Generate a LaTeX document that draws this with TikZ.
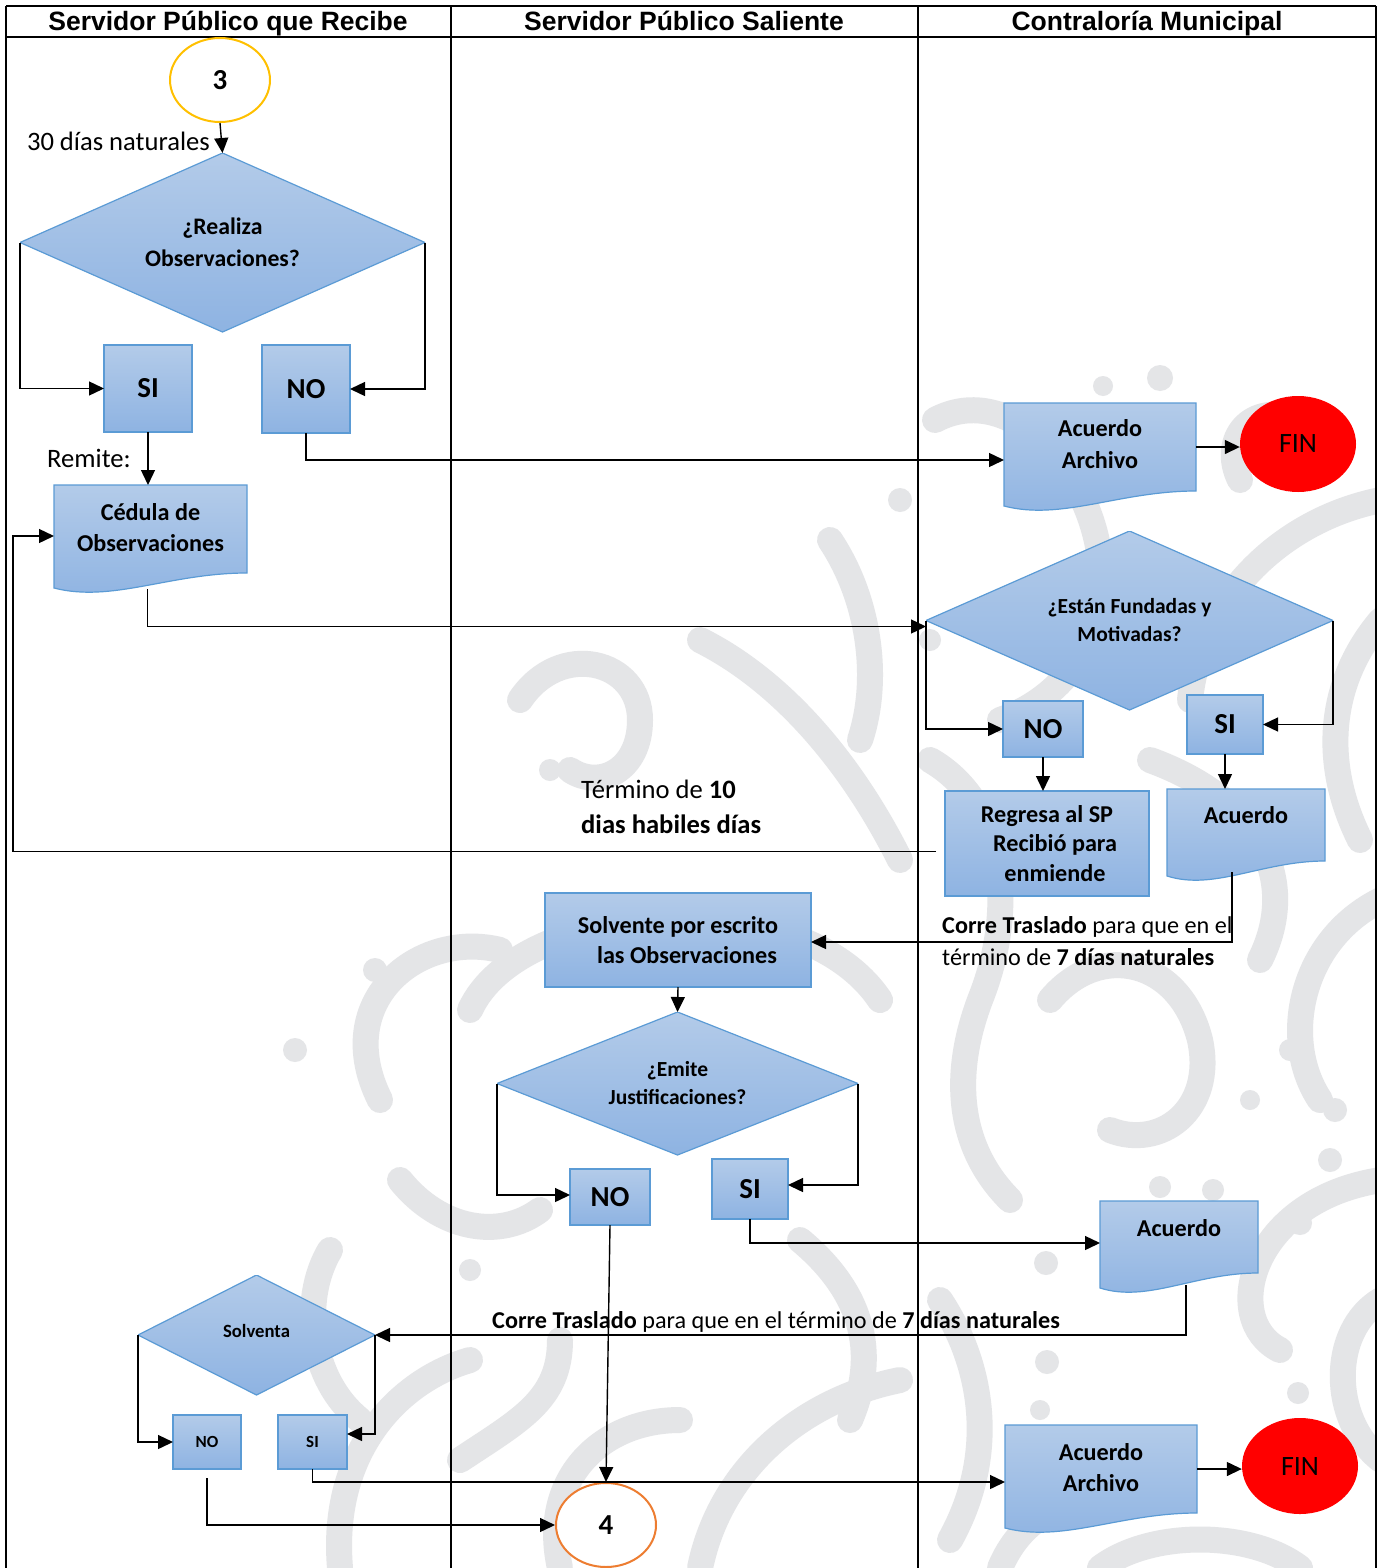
\documentclass[tikz,border=0pt]{standalone}
\usepackage{fontspec}
\setmainfont{Carlito}
\newfontfamily\headfont{Liberation Sans}
\usetikzlibrary{shapes.geometric,arrows.meta,calc}

\definecolor{boxtop}{HTML}{B3CBE9}
\definecolor{boxbot}{HTML}{8EB3E2}
\definecolor{boxline}{HTML}{5B9BD5}
\definecolor{wmgray}{HTML}{E4E5E7}
\definecolor{startgold}{HTML}{FFC000}
\definecolor{endorange}{HTML}{ED7D31}
\definecolor{finred}{HTML}{FF0000}

\newcommand\fs[2]{\fontsize{#1}{#2}\selectfont}
% document symbol: rectangle with a wavy lower edge
\newcommand\docshape[1]{%
  \path[shapefill] (#1.north west) -- (#1.north east) -- (#1.south east)
    .. controls ($(#1.south west)!0.6!(#1.south east)$) and ($(#1.south west)!0.3!(#1.south east)+(0,30)$)
    .. ($(#1.south west)+(0,15)$) -- cycle;}

\begin{document}
\begin{tikzpicture}[x=1pt,y=-1pt,
  shapefill/.style={draw=boxline, line width=1.2pt, top color=boxtop, bottom color=boxbot},
  procbox/.style={shapefill, rectangle, inner sep=0pt, outer sep=0pt, align=center,
                  font=\bfseries\fs{24.2}{30}, anchor=north west},
  answer/.style={procbox, font=\bfseries\fs{29}{30}},
  smallanswer/.style={procbox, font=\bfseries\fs{17}{20}},
  docbody/.style={rectangle, draw=none, inner sep=0pt, outer sep=0pt, anchor=north west},
  doctext/.style={align=center, font=\bfseries\fs{24.2}{31.5}, inner sep=0pt},
  decision/.style={rectangle, inner sep=0pt, outer sep=0pt, align=center,
    path picture={\path[shapefill] (path picture bounding box.north)
       -- (path picture bounding box.east) -- (path picture bounding box.south)
       -- (path picture bounding box.west) -- cycle;}},
  connector/.style={ellipse, inner sep=0pt, fill=white, line width=2pt,
                    font=\bfseries\fs{29}{30}},
  finnode/.style={ellipse, fill=finred, inner sep=0pt, minimum width=116pt,
                  minimum height=96pt, font=\fs{28}{30}},
  flow/.style={line width=1.4pt, draw=black, -{Triangle[length=15pt,width=14pt]}},
  note/.style={inner sep=0pt, align=left, font=\fs{26.6}{35}},
  lane/.style={line width=2.2pt, draw=black},
  lanehead/.style={font=\headfont\bfseries\fs{26.5}{30}, inner sep=0pt, anchor=base},
  wm/.style={draw=wmgray, line width=26pt, line cap=round},
]
\useasboundingbox (0,0) rectangle (1381,1568);
\fill[white] (0,0) rectangle (1381,1568);

% ---------- background ornament ----------
\begin{scope}
\clip (6,37) rectangle (1376,1568);
\draw[wm] (935,420) .. controls (1010,380) and (1090,470) .. (1100,560)
          .. controls (1110,640) and (1060,700) .. (1000,720);
\draw[wm] (1381,500) .. controls (1280,520) and (1200,600) .. (1190,700);
\draw[wm] (1300,420) .. controls (1250,400) and (1220,440) .. (1240,480);
\draw[wm] (930,760) .. controls (1000,800) and (1020,900) .. (980,1000)
          .. controls (950,1080) and (960,1150) .. (1010,1200);
\draw[wm] (1381,900) .. controls (1300,940) and (1280,1040) .. (1320,1100);
\draw[wm] (1381,1180) .. controls (1250,1200) and (1220,1320) .. (1280,1350);
\draw[wm] (940,1300) .. controls (980,1360) and (1000,1450) .. (950,1540);
\draw[wm] (1100,1568) .. controls (1150,1530) and (1250,1530) .. (1300,1568);
\draw[wm] (1150,760) .. controls (1260,800) and (1300,880) .. (1260,960);
\draw[wm] (340,1568) .. controls (330,1450) and (400,1380) .. (470,1360);
\draw[wm] (380,1100) .. controls (330,1000) and (420,930) .. (500,950);
\draw[wm] (520,700) .. controls (560,640) and (640,660) .. (640,720)
          .. controls (640,770) and (600,790) .. (570,770);
\draw[wm] (700,640) .. controls (780,680) and (850,760) .. (900,860);
\draw[wm] (460,1460) .. controls (520,1420) and (560,1400) .. (560,1340);
\draw[wm] (700,1568) .. controls (720,1470) and (800,1400) .. (900,1380);
\draw[wm] (330,1250) .. controls (300,1300) and (310,1380) .. (360,1420);
\draw[wm] (470,1010) .. controls (520,900) and (800,880) .. (880,1000);
\draw[wm] (800,1240) .. controls (860,1290) and (880,1350) .. (850,1420);
\draw[wm] (560,1568) .. controls (540,1480) and (600,1420) .. (680,1420);
\draw[wm] (1381,1300) .. controls (1330,1330) and (1330,1420) .. (1381,1460);
\draw[wm] (1050,1000) .. controls (1100,940) and (1180,960) .. (1200,1040)
          .. controls (1215,1110) and (1160,1150) .. (1110,1130);
\draw[wm] (1381,620) .. controls (1330,680) and (1320,760) .. (1360,840);
\draw[wm] (830,540) .. controls (870,600) and (880,680) .. (860,740);
\draw[wm] (400,1180) .. controls (440,1230) and (500,1240) .. (540,1210);
\draw[wm] (1000,1568) .. controls (1020,1520) and (1060,1500) .. (1100,1500);
\foreach \p/\r in {{(1160,378)}/13,{(1103,386)}/10,{(1046,1263)}/12,{(1047,1362)}/12,
                   {(1040,1410)}/10,{(1300,1223)}/12,{(1298,1393)}/11,{(1160,1187)}/11,
                   {(1213,1190)}/11,{(550,770)}/11,{(375,970)}/12,{(295,1050)}/12,
                   {(1335,1110)}/12,{(1330,1160)}/12,{(900,500)}/12,{(930,640)}/11,
                   {(1290,1050)}/11,{(1250,1100)}/10,{(470,1270)}/11}
  \fill[wmgray] \p circle (\r);
\end{scope}

% ---------- swimlanes ----------
\draw[lane] (6,6) -- (1376,6);
\draw[lane] (6,37) -- (1376,37);
\draw[lane] (6,6) -- (6,1568);
\draw[lane] (451,6) -- (451,1568);
\draw[lane] (918,6) -- (918,1568);
\draw[lane] (1376,6) -- (1376,1568);
\node[lanehead] (h1) at (228,30.5) {Servidor Público que Recibe};
\node[lanehead] (h2) at (684,30.5) {Servidor Público Saliente};
\node[lanehead] (h3) at (1147,30.5) {Contraloría Municipal};

% ---------- shapes ----------
\node[connector, draw=startgold, minimum width=100pt, minimum height=84pt] (c3) at (220,80) {3};
\node[decision, minimum width=405pt, minimum height=179pt, font=\bfseries\fs{23.7}{32}] (d1) at (222.5,242.5) {¿Realiza\\Observaciones?};
\node[answer, minimum width=88pt, minimum height=87pt] (si1) at (104,345) {SI};
\node[answer, minimum width=88pt, minimum height=88pt] (no1) at (262,345) {NO};

\node[docbody, minimum width=193pt, minimum height=88pt] (ced) at (54,485) {};
\docshape{ced}
\node[doctext] (cedt) at ($(ced.north)+(0,42.5)$) {Cédula de\\Observaciones};

\node[docbody, minimum width=192pt, minimum height=88pt] (aa1) at (1004,403) {};
\docshape{aa1}
\node[doctext] (aa1t) at ($(aa1.north)+(0,41)$) {Acuerdo\\Archivo};
\node[finnode] (fin1) at (1298,444) {FIN};

\node[decision, minimum width=407pt, minimum height=179pt, font=\bfseries\fs{21.5}{28}] (d2) at (1129.5,620.5) {¿Están Fundadas y\\Motivadas?};
\node[answer, minimum width=80pt, minimum height=56pt] (no2) at (1003,701) {NO};
\node[answer, minimum width=76pt, minimum height=59pt] (si2) at (1187,695) {SI};
\node[procbox, minimum width=204pt, minimum height=105pt, font=\bfseries\fs{24.2}{29.5}] (reg) at (945,791) {Regresa al SP\\\hspace*{16pt}Recibió para\\\hspace*{16pt}enmiende};

\node[docbody, minimum width=158pt, minimum height=72pt] (ac1) at (1167,789) {};
\docshape{ac1}
\node[doctext] (ac1t) at ($(ac1.north)+(0,26)$) {Acuerdo};

\node[procbox, minimum width=266pt, minimum height=94pt, font=\bfseries\fs{24.2}{29.5}] (sol) at (545,893) {Solvente por escrito\\\hspace*{18pt}las Observaciones};
\node[decision, minimum width=361pt, minimum height=143pt, font=\bfseries\fs{21.5}{28}] (d3) at (677.5,1083.5) {¿Emite\\Justificaciones?};
\node[answer, minimum width=80pt, minimum height=56pt] (no3) at (570,1169) {NO};
\node[answer, minimum width=76pt, minimum height=60pt] (si3) at (712,1159) {SI};

\node[docbody, minimum width=158pt, minimum height=72pt] (ac2) at (1100,1201) {};
\docshape{ac2}
\node[doctext] (ac2t) at ($(ac2.north)+(0,27)$) {Acuerdo};

\node[decision, minimum width=237pt, minimum height=120pt, font=\bfseries\fs{18.7}{20}] (d4) at (256.5,1335) {\raisebox{8pt}{Solventa}};
\node[smallanswer, minimum width=68pt, minimum height=54pt] (no4) at (173,1415) {NO};
\node[smallanswer, minimum width=69pt, minimum height=54pt] (si4) at (278,1415) {SI};

\node[docbody, minimum width=192pt, minimum height=88pt] (aa2) at (1005,1425) {};
\docshape{aa2}
\node[doctext] (aa2t) at ($(aa2.north)+(0,42.5)$) {Acuerdo\\Archivo};
\node[finnode] (fin2) at (1300,1466) {FIN};

\node[connector, draw=endorange, minimum width=100pt, minimum height=84pt] (c4) at (606,1525) {4};

% ---------- notes ----------
\node[note, anchor=east] (n30) at (210,141) {30 días naturales};
\node[note, anchor=west] (nrem) at (47,458) {Remite:};
\node[note, anchor=west] (nterm) at (581,806.5) {Término de \textbf{10}\\\textbf{dias habiles días}};
\node[note, anchor=west, font=\fs{24.2}{32}] (ntras1) at (942,941) {\textbf{Corre Traslado} para que en el\\término de \textbf{7 días naturales}};
\node[note, anchor=west, font=\fs{24.2}{32}] (ntras2) at (492,1322) {\textbf{Corre Traslado} para que en el término de \textbf{7 días naturales}};

% ---------- connectors ----------
\draw[flow] (c3.south) -- (d1.north);
\draw[flow] (d1.west) |- (si1.west);
\draw[flow] (d1.east) |- (no1.east);
\draw[flow] (si1.south) -- (si1.south |- ced.north);
\draw[flow] (no1.south) |- ([yshift=-13pt]aa1.west);
\draw[flow] (aa1.east) -- (aa1.east -| fin1.west);
\draw[flow] ($(ced.south)+(-3,16)$) |- ([yshift=-6pt]d2.west);
\draw[flow] (d2.west) |- (no2.west);
\draw[flow] (d2.east) |- (si2.east);
\draw[flow] (no2.south) -- (no2.south |- reg.north);
\draw[flow] (si2.south) -- (si2.south |- ac1.north);
\draw[flow] ([shift={(-9pt,-8pt)}]reg.west) -| ($(ced.west)+(-41,7)$) -- ([yshift=-7pt]ced.west);
\draw[flow] ($(ac1.south)+(-14,11)$) |- ([yshift=-2pt]sol.east);
\draw[flow] (sol.south) -- (d3.north);
\draw[flow] (d3.west) |- ([yshift=2pt]no3.west);
\draw[flow] (d3.east) |- ([yshift=4pt]si3.east);
\draw[flow] (si3.south) |- ([yshift=-6pt]ac2.west);
\draw[flow] ($(ac2.south)+(7,12)$) |- (d4.east);
\draw[flow] (no3.south) -- (c4.north);
\draw[flow] (d4.west) |- (no4.west);
\draw[flow] (d4.east) |- ([yshift=8pt]si4.east);
\draw[flow] (si4.south) |- ([yshift=-13pt]aa2.west);
\draw[flow] (aa2.east) -- (aa2.east -| fin2.west);
\draw[flow] ([yshift=-9pt]no4.south) |- (c4.west);
\end{tikzpicture}
\end{document}
